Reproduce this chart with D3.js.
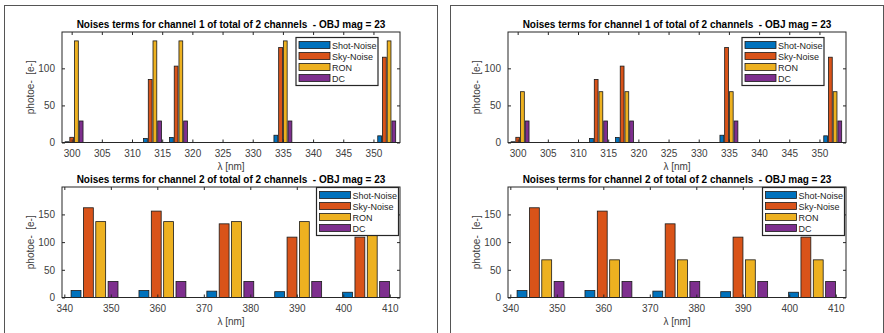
<!DOCTYPE html>
<html>
<head>
<meta charset="utf-8">
<script src="https://cdn.jsdelivr.net/npm/d3@7"></script>
<style>
  body { margin: 0; background: #fff; }
  svg text { font-family: "Liberation Sans", Arial, sans-serif; white-space: pre; }
</style>
</head>
<body>
<div id="chart-area"></div>
<script>
// data
let seriesNames = ["Shot-Noise", "Sky-Noise", "RON", "DC"];
let colors = ["#0072BD", "#D95319", "#EDB120", "#7E2F8E"];

// channel 1
let lambda1 = [300.4, 313.4, 317.7, 335.0, 352.2];
let shot1 = [1, 5.4, 6.8, 9.8, 9];
let sky1 = [7, 85, 103, 128, 115];
let ronLeft1 = [137, 137, 137, 137, 137];
let ronRight1 = [68.5, 68.5, 68.5, 68.5, 68.5];
let dc1 = [29, 29, 29, 29, 29];

// channel 2
let lambda2 = [346.5, 361.1, 375.7, 390.3, 404.9];
let shot2 = [12.5, 12.5, 11.5, 10.5, 9.5];
let sky2 = [162, 156, 133, 109, 109];
let ronLeft2 = [137, 137, 137, 137, 137];
let ronRight2 = [68, 68, 68, 68, 68];
let dc2 = [29, 29, 29, 29, 29];

let xTicks1 = [300, 305, 310, 315, 320, 325, 330, 335, 340, 345, 350];
let xTicks2 = [340, 350, 360, 370, 380, 390, 400, 410];
let yTicks1 = [0, 50, 100];
let yTicks2 = [0, 50, 100, 150];

let width = 884, height = 333;
let axisColor = "#262626";

let svg = d3.select("#chart-area").append("svg")
  .attr("width", width)
  .attr("height", height);

function drawAxes(g, opt) {
  let x = d3.scaleLinear().domain(opt.xDomain).range([opt.left, opt.right]);
  let y = d3.scaleLinear().domain(opt.yDomain).range([opt.bottom, opt.top]);

  // bars, grouped like matlab's bar()
  let diffs = d3.pairs(opt.lambda).map(p => p[1] - p[0]);
  let groupW = d3.min(diffs) * 4 / 5.5;
  let slot = groupW / 4;
  let barW = x(slot * 0.8) - x(0);
  opt.values.forEach((vals, s) => {
    g.selectAll(null)
      .data(vals.map((v, i) => ({v: v, c: opt.lambda[i]})))
      .enter()
      .append("rect")
      .attr("x", d => x(d.c + (s - 1.5) * slot) - barW / 2)
      .attr("y", d => y(d.v))
      .attr("width", barW)
      .attr("height", d => y(0) - y(d.v))
      .attr("fill", colors[s])
      .attr("stroke", "#1a1a1a")
      .attr("stroke-width", 0.8);
  });

  // axes with inward ticks on all four sides
  let tl = 3;
  g.append("g")
    .attr("transform", "translate(0," + opt.bottom + ")")
    .call(d3.axisBottom(x).tickValues(opt.xTicks).tickSizeInner(-tl).tickSizeOuter(0).tickPadding(7))
    .call(a => a.select(".domain").remove());
  g.append("g")
    .attr("transform", "translate(0," + opt.top + ")")
    .call(d3.axisTop(x).tickValues(opt.xTicks).tickSizeInner(-tl).tickSizeOuter(0).tickFormat(""))
    .call(a => a.select(".domain").remove());
  g.append("g")
    .attr("transform", "translate(" + opt.left + ",0)")
    .call(d3.axisLeft(y).tickValues(opt.yTicks).tickSizeInner(-tl).tickSizeOuter(0).tickPadding(7))
    .call(a => a.select(".domain").remove());
  g.append("g")
    .attr("transform", "translate(" + opt.right + ",0)")
    .call(d3.axisRight(y).tickValues(opt.yTicks).tickSizeInner(-tl).tickSizeOuter(0).tickFormat(""))
    .call(a => a.select(".domain").remove());
  g.selectAll(".tick line").attr("stroke", axisColor);
  g.selectAll(".tick text").attr("fill", "#404040").style("font-size", "10px");

  g.append("rect")
    .attr("x", opt.left).attr("y", opt.top)
    .attr("width", opt.right - opt.left).attr("height", opt.bottom - opt.top)
    .attr("fill", "none").attr("stroke", axisColor).attr("stroke-width", 1);

  let cx = (opt.left + opt.right) / 2;
  g.append("text")
    .attr("x", cx).attr("y", opt.top - 4)
    .attr("text-anchor", "middle")
    .style("font-size", "10px").style("font-weight", "bold")
    .attr("fill", "#000")
    .text(opt.title);
  g.append("text")
    .attr("x", cx).attr("y", opt.bottom + 27)
    .attr("text-anchor", "middle")
    .style("font-size", "10px").attr("fill", "#404040")
    .text("λ [nm]");
  g.append("text")
    .attr("transform", "translate(" + (opt.left - 28) + "," + ((opt.top + opt.bottom) / 2) + ") rotate(-90)")
    .attr("text-anchor", "middle")
    .style("font-size", "10px").attr("fill", "#404040")
    .text("photoe-  [e-]");

  // legend
  let lg = g.append("g").attr("transform", "translate(" + opt.legX + "," + opt.legY + ")");
  lg.append("rect")
    .attr("width", 82).attr("height", 48)
    .attr("fill", "#fff").attr("stroke", axisColor).attr("stroke-width", 1.2);
  seriesNames.forEach((name, i) => {
    lg.append("rect")
      .attr("x", 3).attr("y", 4 + i * 11)
      .attr("width", 31).attr("height", 7)
      .attr("fill", colors[i]).attr("stroke", "#1a1a1a").attr("stroke-width", 0.8);
    lg.append("text")
      .attr("x", 36).attr("y", 11 + i * 11)
      .style("font-size", "9px").attr("fill", "#262626")
      .text(name);
  });
}

function drawPanel(offset, ron1, ron2) {
  let g = svg.append("g").attr("transform", "translate(" + offset + ",0)");
  g.append("rect")
    .attr("x", 4.5).attr("y", 5.5).attr("width", 433).attr("height", 340)
    .attr("fill", "#fff").attr("stroke", "#555").attr("stroke-width", 1);

  drawAxes(g, {
    left: 62, right: 400, top: 32, bottom: 142.5,
    xDomain: [298.4, 354.4], yDomain: [0, 149],
    xTicks: xTicks1, yTicks: yTicks1,
    lambda: lambda1, values: [shot1, sky1, ron1, dc1],
    title: "Noises terms for channel 1 of total of 2 channels  - OBJ mag = 23",
    legX: 296, legY: 37.5
  });
  drawAxes(g, {
    left: 62, right: 400, top: 187, bottom: 297.5,
    xDomain: [339.5, 412.2], yDomain: [0, 199.5],
    xTicks: xTicks2, yTicks: yTicks2,
    lambda: lambda2, values: [shot2, sky2, ron2, dc2],
    title: "Noises terms for channel 2 of total of 2 channels  - OBJ mag = 23",
    legX: 316.5, legY: 187.5
  });
}

drawPanel(0, ronLeft1, ronLeft2);
drawPanel(446, ronRight1, ronRight2);
</script>
</body>
</html>
